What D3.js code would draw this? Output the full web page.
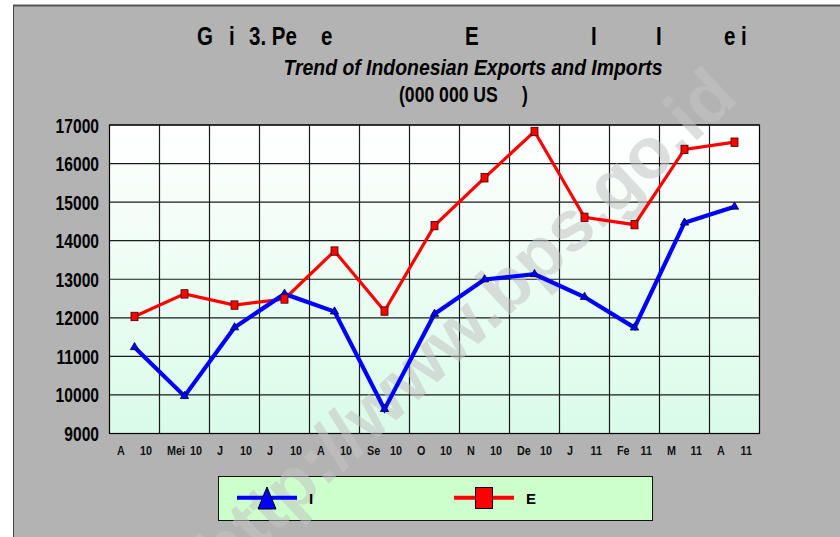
<!DOCTYPE html>
<html>
<head>
<meta charset="utf-8">
<script src="https://cdn.jsdelivr.net/npm/d3@7"></script>
<style>
  body { margin: 0; background: #fff; }
  svg text { font-family: "Liberation Sans", Arial, sans-serif; }
</style>
</head>
<body>
<div id="chart"></div>
<script>
// data (million US$)
var months = ["A", "Mei", "J", "J", "A", "Se", "O", "N", "De", "J", "Fe", "M", "A"];
var years = ["10", "10", "10", "10", "10", "10", "10", "10", "10", "11", "11", "11", "11"];
var exportVals = [12035, 12620, 12330, 12488, 13731, 12175, 14391, 15631, 16832, 14606, 14416, 16366, 16554];
var importVals = [11237, 9968, 11750, 12620, 12160, 9632, 12100, 12995, 13130, 12540, 11745, 14466, 14880];
var yTicks = [9000, 10000, 11000, 12000, 13000, 14000, 15000, 16000, 17000];

var W = 840, H = 537;
var plotL = 109.5, plotR = 759.5, plotT = 125, plotB = 433.5;

// squeeze text horizontally, the original uses a narrow font
function condense(sel, k) {
  sel.each(function() {
    var len = this.getComputedTextLength();
    d3.select(this).attr("textLength", len * k).attr("lengthAdjust", "spacingAndGlyphs");
  });
}

var svg = d3.select("#chart").append("svg")
    .attr("width", W).attr("height", H);

// outer grey panel
svg.append("rect").attr("x", 13).attr("y", 5).attr("width", W - 13).attr("height", H - 5)
    .attr("fill", "#b3b3b3");
svg.append("line").attr("x1", 13.5).attr("x2", 13.5).attr("y1", 5).attr("y2", H)
    .attr("stroke", "#444").attr("stroke-width", 1);
svg.append("line").attr("x1", 13).attr("x2", W).attr("y1", 5.5).attr("y2", 5.5)
    .attr("stroke", "#555").attr("stroke-width", 2);

// gradient for plot area
var defs = svg.append("defs");
var grad = defs.append("linearGradient").attr("id", "plotbg")
    .attr("x1", 0).attr("y1", 0).attr("x2", 0).attr("y2", 1);
grad.append("stop").attr("offset", "0%").attr("stop-color", "#ffffff");
grad.append("stop").attr("offset", "100%").attr("stop-color", "#d9fbe8");

// scales
var x = d3.scaleBand().domain(d3.range(months.length)).range([plotL, plotR]);
var y = d3.scaleLinear().domain([9000, 17000]).range([plotB, plotT]);

// titles
var t1 = svg.append("g").attr("font-size", 25).attr("font-weight", "bold");
[["G", 197], ["i", 229], ["3. Pe", 249], ["e", 321], ["E", 465], ["I", 591], ["I", 656], ["e i", 724]]
  .forEach(function(p) {
    t1.append("text").attr("x", p[1]).attr("y", 45).text(p[0]).call(condense, 0.82);
  });

svg.append("text").attr("x", 473).attr("y", 75)
    .attr("text-anchor", "middle").attr("font-size", 22)
    .attr("font-weight", "bold").attr("font-style", "italic")
    .text("Trend of Indonesian Exports and Imports")
    .attr("textLength", 379).attr("lengthAdjust", "spacingAndGlyphs");

svg.append("text").attr("x", 399).attr("y", 102).attr("font-size", 22).attr("font-weight", "bold")
    .text("(000 000 US").call(condense, 0.8);
svg.append("text").attr("x", 522).attr("y", 102).attr("font-size", 22).attr("font-weight", "bold")
    .text(")").call(condense, 0.8);

// plot area
svg.append("rect").attr("x", plotL).attr("y", plotT)
    .attr("width", plotR - plotL).attr("height", plotB - plotT)
    .attr("fill", "url(#plotbg)");

// grid
var grid = svg.append("g").attr("stroke", "#1a1a1a").attr("stroke-width", 1.2);
grid.selectAll("line.h").data(yTicks).enter().append("line")
    .attr("x1", plotL).attr("x2", plotR)
    .attr("y1", function(d) { return y(d); }).attr("y2", function(d) { return y(d); });
grid.selectAll("line.v").data(d3.range(1, months.length)).enter().append("line")
    .attr("y1", plotT).attr("y2", plotB)
    .attr("x1", function(d) { return x(d); }).attr("x2", function(d) { return x(d); });
svg.append("rect").attr("x", plotL).attr("y", plotT)
    .attr("width", plotR - plotL).attr("height", plotB - plotT)
    .attr("fill", "none").attr("stroke", "#000").attr("stroke-width", 1.2);

// y axis labels
svg.append("g").selectAll("text").data(yTicks).enter().append("text")
    .attr("x", 99).attr("y", function(d) { return y(d) + 7.5; })
    .attr("text-anchor", "end").attr("font-size", 20).attr("font-weight", "bold")
    .text(function(d) { return d; })
    .call(condense, 0.78);

// x axis labels (month part / year part)
var xl = svg.append("g").attr("font-size", 13.5).attr("font-weight", "bold").attr("fill", "#111");
xl.selectAll("text.m").data(months).enter().append("text")
    .attr("x", function(d, i) { return x(i) + x.bandwidth() / 2 - 17.5; })
    .attr("y", 455).text(function(d) { return d; })
    .call(condense, 0.8);
xl.selectAll("text.y").data(years).enter().append("text")
    .attr("x", function(d, i) { return x(i) + x.bandwidth() / 2 + 17.5; })
    .attr("y", 455).attr("text-anchor", "end").text(function(d) { return d; })
    .call(condense, 0.8);

// legend box
svg.append("rect").attr("x", 218.5).attr("y", 476.5).attr("width", 434).attr("height", 44)
    .attr("fill", "#ccffcc").attr("stroke", "#111").attr("stroke-width", 1);

// watermark
svg.append("text")
    .attr("transform", "translate(740,100) rotate(-43)")
    .attr("text-anchor", "end").attr("font-size", 72).attr("font-weight", "bold")
    .attr("fill", "#c4c4c4").attr("opacity", 0.55)
    .text("http://www.bps.go.id");

// series
var cx = function(d, i) { return x(i) + x.bandwidth() / 2; };
var line = d3.line().x(cx).y(function(d) { return y(d); });

svg.append("path").datum(exportVals).attr("d", line)
    .attr("fill", "none").attr("stroke", "#ff0000").attr("stroke-width", 3.2);
svg.append("path").datum(importVals).attr("d", line)
    .attr("fill", "none").attr("stroke", "#0000ff").attr("stroke-width", 4.2);

var tri = d3.symbol().type(d3.symbolTriangle).size(30);
svg.append("g").selectAll("path").data(importVals).enter().append("path")
    .attr("transform", function(d, i) { return "translate(" + cx(d, i) + "," + y(d) + ")"; })
    .attr("d", tri).attr("fill", "#0000ff").attr("stroke", "#000033").attr("stroke-width", 0.8);

svg.append("g").selectAll("rect").data(exportVals).enter().append("rect")
    .attr("x", function(d, i) { return cx(d, i) - 3.5; })
    .attr("y", function(d) { return y(d) - 4.2; })
    .attr("width", 7).attr("height", 8.4)
    .attr("fill", "#ff0000").attr("stroke", "#330000").attr("stroke-width", 0.8);

// legend items
svg.append("line").attr("x1", 237).attr("x2", 297).attr("y1", 497.7).attr("y2", 497.7)
    .attr("stroke", "#0000ff").attr("stroke-width", 4);
svg.append("path").attr("d", "M267,487 L276,509 L258,509 Z")
    .attr("fill", "#0000ff").attr("stroke", "#000").attr("stroke-width", 1);
svg.append("text").attr("x", 309).attr("y", 504).attr("font-size", 15).attr("font-weight", "bold").text("I");

svg.append("line").attr("x1", 454).attr("x2", 514).attr("y1", 497.7).attr("y2", 497.7)
    .attr("stroke", "#ff0000").attr("stroke-width", 4);
svg.append("rect").attr("x", 475.5).attr("y", 487.5).attr("width", 17).attr("height", 21)
    .attr("fill", "#ff0000").attr("stroke", "#000").attr("stroke-width", 1);
svg.append("text").attr("x", 526).attr("y", 504).attr("font-size", 15).attr("font-weight", "bold").text("E");
</script>
</body>
</html>
